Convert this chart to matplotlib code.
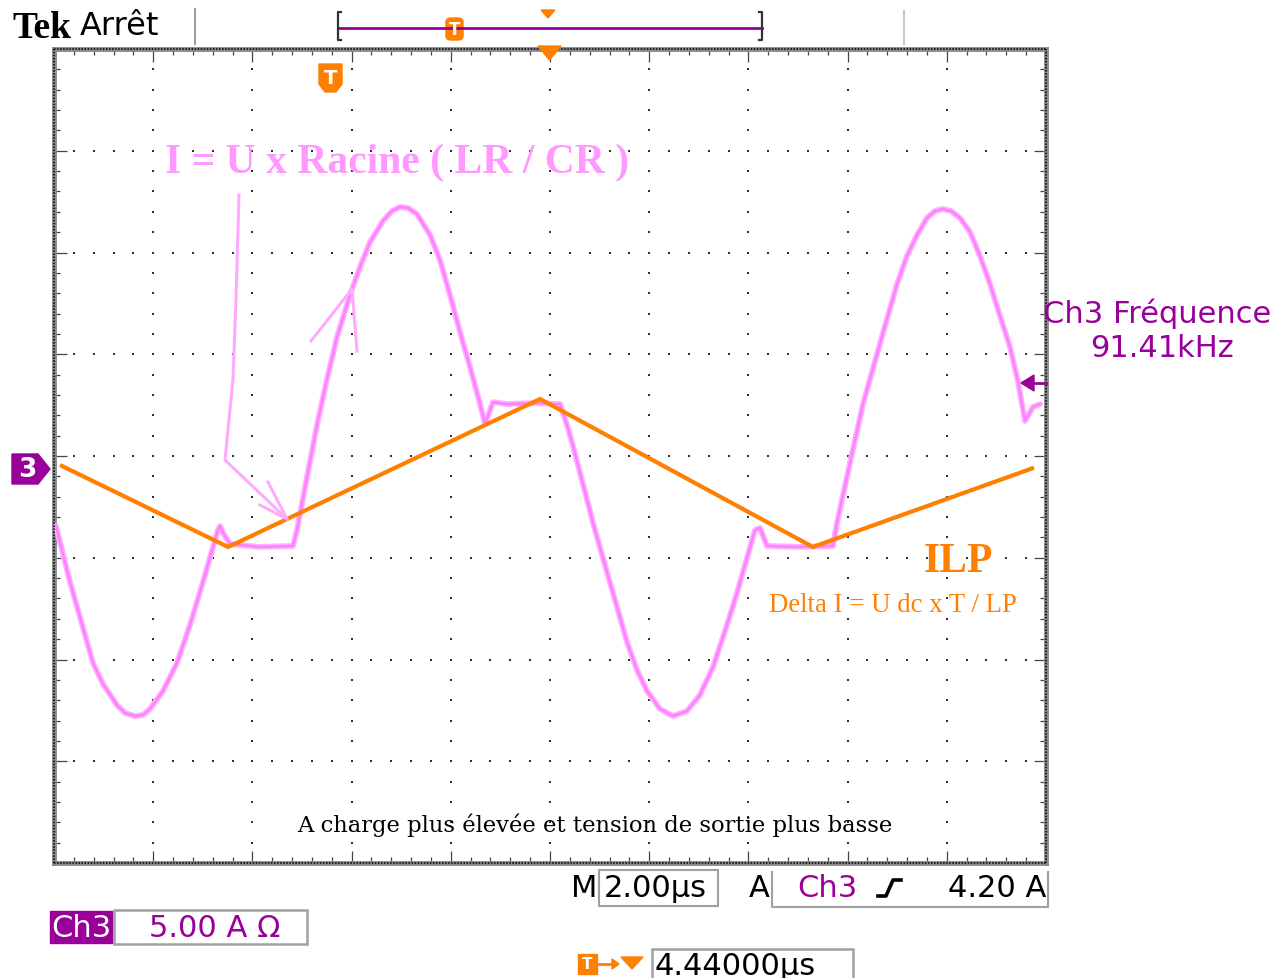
import matplotlib
matplotlib.use("Agg")
import matplotlib.pyplot as plt
from matplotlib.patches import Polygon, Rectangle, FancyBboxPatch
from matplotlib.lines import Line2D
import numpy as np

time_per_div_us = 2.0       # M 2.00 µs
amp_per_div = 5.0           # Ch3 5.00 A
ground_div = -0.118         # Ch3 ground marker position (div from screen centre)

# resonant current (pink trace), time in µs from left edge, current in A
res_t = [0.040, 0.181, 0.323, 0.585, 0.786, 0.988, 1.270, 1.431, 1.633, 1.794, 1.935,
         2.198, 2.480, 2.742, 3.004, 3.206, 3.306, 3.347, 3.407, 3.548, 4.153, 4.818,
         4.899, 5.101, 5.302, 5.504, 5.706, 5.968, 6.169, 6.371, 6.633, 6.815, 6.976,
         7.137, 7.318, 7.581, 7.782, 7.984, 8.185, 8.387, 8.589, 8.690, 8.851, 9.133,
         9.698, 10.201, 10.343, 10.464, 10.665, 10.867, 11.068, 11.270, 11.552, 11.754,
         11.956, 12.218, 12.480, 12.762, 13.024, 13.286, 13.569, 13.770, 13.972, 14.133,
         14.234, 14.375, 15.040, 15.706, 15.786, 15.907, 16.109, 16.310, 16.593, 16.794,
         16.996, 17.197, 17.399, 17.601, 17.762, 17.923, 18.085, 18.266, 18.468, 18.669,
         18.871, 19.072, 19.274, 19.435, 19.577, 19.738, 19.879]
res_i = [-2.85, -4.23, -5.60, -7.86, -9.58, -10.61, -11.65, -12.04, -12.19, -12.14,
         -11.84, -10.96, -9.58, -7.71, -5.60, -3.88, -3.05, -2.85, -3.19, -3.73, -3.88,
         -3.83, -3.05, -0.44, 2.11, 4.37, 6.44, 8.50, 9.88, 11.10, 12.14, 12.63, 12.83,
         12.78, 12.48, 11.45, 10.22, 8.50, 6.68, 4.96, 3.14, 2.16, 3.24, 3.14, 3.19, 3.14,
         2.11, 1.08, -0.79, -2.70, -4.42, -6.14, -8.55, -9.93, -10.96, -11.84, -12.19,
         -11.94, -11.15, -9.78, -7.71, -6.14, -4.42, -3.05, -2.95, -3.83, -3.88, -3.83,
         -2.70, -1.33, 0.93, 3.14, 5.60, 7.32, 9.04, 10.42, 11.45, 12.29, 12.63, 12.73,
         12.63, 12.29, 11.60, 10.42, 9.04, 7.47, 5.95, 4.23, 2.31, 3.00, 3.14]

# inductor current ILP (orange trace)
ilp_t = [0.16, 3.51, 9.80, 15.30, 19.72]
ilp_i = [0.10, -3.88, 3.39, -3.88, -0.02]

# ---------------- figure ----------------
W, H = 1281, 979
fig = plt.figure(figsize=(W / 100, H / 100), dpi=100)
fig.patch.set_facecolor("white")

PURPLE = "#990099"
ORANGE = "#ff7f00"
PINK = "#ff80ff"
PINK_TXT = "#ff99ff"
SANS = "DejaVu Sans"
SERIF = "Liberation Serif"


def fx(x):
    return x / W


def fy(y):
    return 1 - y / H


def fline(xs, ys, **kw):
    fig.add_artist(Line2D([fx(x) for x in xs], [fy(y) for y in ys],
                          transform=fig.transFigure, **kw))


def fpoly(pts, **kw):
    fig.add_artist(Polygon([(fx(x), fy(y)) for x, y in pts], closed=True,
                           transform=fig.transFigure, **kw))


def frect(x0, y0, x1, y1, **kw):
    fig.add_artist(Rectangle((fx(x0), fy(y1)), fx(x1) - fx(x0), fy(y0) - fy(y1),
                             transform=fig.transFigure, **kw))


def ftext(x, y, s, **kw):
    fig.text(fx(x), fy(y), s, **kw)


# plot area (graticule)
L, R, T, B = 54, 1046, 50, 864
ax = fig.add_axes([fx(L), fy(B), fx(R) - fx(L), fy(T) - fy(B)])
xmax = 10 * time_per_div_us
ylo = (-4 - ground_div) * amp_per_div
yhi = (4 - ground_div) * amp_per_div
ax.set_xlim(0, xmax)
ax.set_ylim(ylo, yhi)
ax.set_facecolor("white")

major_x = [k * time_per_div_us for k in range(11)]
major_y = [(k - ground_div) * amp_per_div for k in range(-4, 5)]
minor_x = np.arange(0, 50 + 1) * time_per_div_us / 5
minor_y = ylo + np.arange(0, 40 + 1) * amp_per_div / 5

# dotted graticule
gx, gy = [], []
for xv in major_x[1:-1]:
    for yv in minor_y[1:-1]:
        gx.append(xv); gy.append(yv)
for yv in major_y[1:-1]:
    for xv in minor_x[1:-1]:
        gx.append(xv); gy.append(yv)
ax.scatter(gx, gy, s=2.2, marker="s", color="#303030", linewidths=0, zorder=1)

ax.set_xticks(major_x)
ax.set_yticks(major_y)
ax.set_xticks(minor_x, minor=True)
ax.set_yticks(minor_y, minor=True)
ax.tick_params(which="both", direction="in", top=True, right=True,
               labelbottom=False, labelleft=False, color="#444444", width=0.9)
ax.tick_params(which="major", length=9)
ax.tick_params(which="minor", length=4)
for sp in ax.spines.values():
    sp.set_color("#8a8a8a")
    sp.set_linewidth(3.5)

# traces
ax.plot(res_t, res_i, color="#ffb0ff", lw=4.2, solid_capstyle="round",
        solid_joinstyle="round", zorder=3)
ax.plot(res_t, res_i, color=PINK, lw=1.8, solid_joinstyle="round", zorder=4)
ax.plot(ilp_t, ilp_i, color=ORANGE, lw=3.0, zorder=5, solid_joinstyle="miter")

# dotted inner border
for xs, ys in [([0, xmax], [ylo, ylo]), ([0, xmax], [yhi, yhi]),
               ([0, 0], [ylo, yhi]), ([xmax, xmax], [ylo, yhi])]:
    ax.plot(xs, ys, color="black", lw=1.1, ls=(0, (1, 1)), clip_on=False, zorder=6)

# ---------------- annotations inside the plot ----------------
ac = "#ffaaff"
fline([239, 236, 233, 225, 287], [196, 300, 380, 461, 520], color=ac, lw=2.2)
fline([268, 287, 260], [483, 520, 506], color=ac, lw=2.2)
fline([311, 352, 357], [342, 290, 352], color=ac, lw=2.2)

ftext(165, 173, "I = U x Racine ( LR / CR )", color=PINK_TXT, fontsize=30,
      family=SERIF, weight="bold", va="baseline")
ftext(924, 572, "ILP", color=ORANGE, fontsize=30, family=SERIF, weight="bold",
      va="baseline")
ftext(769, 612, "Delta I = U dc x T / LP", color=ORANGE, fontsize=19.3, family=SERIF,
      va="baseline")
ftext(297, 832, "A charge plus élevée et tension de sortie plus basse", color="black",
      fontsize=16.3, family="DejaVu Serif", va="baseline")

# T badge in plot
fpoly([(319, 65), (342, 65), (342, 85), (336, 93), (325, 93), (319, 85)],
      color=ORANGE, zorder=10)
ftext(330.5, 78, "T", color="white", fontsize=14, family=SANS, weight="bold",
      ha="center", va="center", zorder=11)

# Ch3 ground marker
fpoly([(12, 455), (38, 455), (50, 470), (38, 485), (12, 485)], color=PURPLE, zorder=10)
ftext(27, 470, "3", color="white", fontsize=19, family=SANS, weight="bold",
      ha="center", va="center", zorder=11)

# right purple marker
fpoly([(1021, 384), (1034, 376), (1034, 392)], color=PURPLE, zorder=10)
fline([1034, 1046], [384, 384], color=PURPLE, lw=2)

# ---------------- header ----------------
ftext(12, 38, "Tek", fontsize=27, family=SERIF, weight="bold", va="baseline")
ftext(80, 35, "Arrêt", fontsize=23, family=SANS, va="baseline")
fline([195, 195], [10, 45], color="#a0a0a0", lw=1.5)
fline([904, 904], [12, 45], color="#c8c8c8", lw=1.5)
fline([338, 762], [29, 29], color=PURPLE, lw=2)
fline([341, 338, 338, 341], [13, 13, 41, 41], color="#333333", lw=1.6)
fline([759, 762, 762, 759], [13, 13, 41, 41], color="#333333", lw=1.6)
fig.add_artist(FancyBboxPatch((fx(446), fy(41)), fx(463) - fx(446), fy(19) - fy(41),
                              boxstyle="round,pad=0,rounding_size=0.004",
                              transform=fig.transFigure, color=ORANGE))
ftext(454.5, 30, "T", color="white", fontsize=12, family=SANS, weight="bold",
      ha="center", va="center")
fpoly([(541, 11), (555, 11), (548, 19)], color=ORANGE)
fpoly([(538, 47), (561, 47), (549.5, 61)], color=ORANGE, zorder=10)

# ---------------- right readout ----------------
ftext(1043, 323, "Ch3 Fréquence", color=PURPLE, fontsize=22, family=SANS, va="baseline")
ftext(1090, 357, "91.41kHz", color=PURPLE, fontsize=22, family=SANS, va="baseline")

# ---------------- bottom readouts ----------------
ftext(571, 897, "M", fontsize=22, family=SANS, va="baseline")
frect(599, 871, 718, 907, fill=False, edgecolor="#a0a0a0", lw=1.5)
ftext(604, 897, "2.00µs", fontsize=22, family=SANS, va="baseline")
ftext(749, 897, "A", fontsize=22, family=SANS, va="baseline")
fline([772, 772, 1048, 1048], [873, 908, 908, 873], color="#a0a0a0", lw=1.5)
ftext(797, 897, "Ch3", color=PURPLE, fontsize=22, family=SANS, va="baseline")
fline([878, 886, 893, 901], [897, 897, 881, 881], color="black", lw=2.6)
ftext(1046, 897, "4.20 A", fontsize=22, family=SANS, ha="right", va="baseline")

frect(50, 912, 112, 944, color=PURPLE)
ftext(81, 937, "Ch3", color="white", fontsize=22, family=SANS, ha="center",
      va="baseline")
frect(114, 911, 307, 945, fill=False, edgecolor="#a0a0a0", lw=1.8)
ftext(149, 937, "5.00 A Ω", color=PURPLE, fontsize=22, family=SANS, va="baseline")

frect(578, 955, 597, 975, color=ORANGE)
ftext(587.5, 965, "T", color="white", fontsize=11, family=SANS, weight="bold",
      ha="center", va="center")
fline([599, 616], [965, 965], color=ORANGE, lw=2)
fpoly([(612, 960), (619, 965), (612, 970)], color=ORANGE)
fpoly([(621, 958), (643, 958), (632, 970)], color=ORANGE)
frect(652, 950, 853, 990, fill=False, edgecolor="#a0a0a0", lw=1.8)
ftext(655, 975, "4.44000µs", fontsize=22, family=SANS, va="baseline")

fig.savefig("out.png", dpi=100, facecolor="white")
